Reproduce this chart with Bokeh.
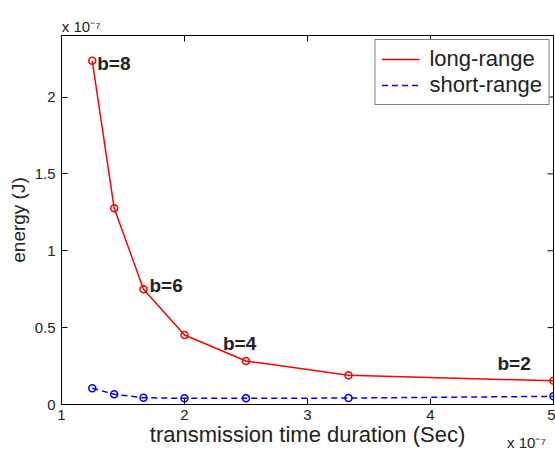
from bokeh.plotting import figure
from bokeh.models import (ColumnDataSource, Range1d, Label, Legend, LegendItem,
                          LinearAxis, FixedTicker)
from bokeh.embed import file_html
from bokeh.resources import INLINE

# data (x in units of 1e-7 s, y in units of 1e-7 J)
b_values = [8, 7, 6, 5, 4, 3, 2]
duration = [1.25, 1.4286, 1.6667, 2.0, 2.5, 3.3333, 5.0]
long_range = [2.235, 1.276, 0.75, 0.452, 0.283, 0.19, 0.154]
short_range = [0.106, 0.066, 0.044, 0.040, 0.040, 0.042, 0.053]
x_ticks = [1, 2, 3, 4, 5]
y_ticks = [0, 0.5, 1, 1.5, 2]
annotated_b = [8, 6, 4, 2]
exponent_text = "x 10\u207b\u2077"

FONT = "Liberation Sans"
TXT = "#222222"
X0, X1, Y0, Y1 = 1, 5, 0, 2.4
SPAN = X1 - X0

p = figure(width=555, height=449, output_backend="svg", toolbar_location=None,
           x_range=Range1d(X0, X1), y_range=Range1d(Y0, Y1),
           min_border_left=61, min_border_right=2, min_border_top=35, min_border_bottom=44)
p.title.visible = False
p.background_fill_color = "white"
p.border_fill_color = "white"
p.outline_line_color = "black"
p.outline_line_width = 1
p.xgrid.visible = False
p.ygrid.visible = False

src = ColumnDataSource(dict(x=duration, lr=long_range, sr=short_range, b=b_values))

r_long = p.line("x", "lr", source=src, line_color="red", line_width=1.5)
p.scatter("x", "lr", source=src, marker="circle", size=7, line_color="red",
          fill_color=None, line_width=1.5)
r_short = p.line("x", "sr", source=src, line_color="blue", line_width=1.5, line_dash="6 4")
p.scatter("x", "sr", source=src, marker="circle", size=7, line_color="blue",
          fill_color=None, line_width=1.5)

# inward ticks mirrored on the top and right edges (clipped to the frame)
tt_src = ColumnDataSource(dict(x=x_ticks, y=[Y1] * len(x_ticks)))
rt_src = ColumnDataSource(dict(x=[X1] * len(y_ticks), y=y_ticks))
p.scatter("x", "y", source=tt_src, marker="dash", angle=1.5708, size=12,
          line_color="black", line_width=1)
p.scatter("x", "y", source=rt_src, marker="dash", size=12,
          line_color="black", line_width=1)

# main axes
xa, ya = p.xaxis[0], p.yaxis[0]
xa.ticker = x_ticks
ya.ticker = y_ticks
for ax in (xa, ya):
    ax.major_tick_in = 6
    ax.major_tick_out = 0
    ax.minor_tick_line_color = None
    ax.axis_line_color = "black"
    ax.major_tick_line_color = "black"
    ax.major_label_text_font = FONT
    ax.major_label_text_font_size = "15px"
    ax.major_label_text_color = TXT
    ax.axis_label_text_font = FONT
    ax.axis_label_text_font_style = "normal"
    ax.axis_label_text_color = TXT
xa.major_label_standoff = 5
ya.axis_label = "energy (J)"
ya.axis_label_text_font_size = "19px"
ya.major_label_standoff = 6
ya.axis_label_standoff = 3
ya.major_label_overrides = {0: "0", 0.5: "0.5", 1: "1", 1.5: "1.5", 2: "2"}


def label_axis(anchor, standoff):
    return LinearAxis(ticker=FixedTicker(ticks=[anchor]),
                      major_label_overrides={anchor: exponent_text},
                      major_tick_line_color=None, minor_tick_line_color=None,
                      axis_line_color=None, major_label_standoff=standoff,
                      major_label_text_align="center", major_label_text_font=FONT,
                      major_label_text_font_size="15px", major_label_text_color=TXT)


# second bottom axis: exponent near the right end, with the x axis title on the same row
xb = label_axis(X1 - 0.055 * SPAN, 5)
xb.axis_label = "transmission time duration (Sec)"
xb.axis_label_text_font = FONT
xb.axis_label_text_font_style = "normal"
xb.axis_label_text_font_size = "22px"
xb.axis_label_text_color = TXT
xb.axis_label_standoff = -32
p.add_layout(xb, "below")

# top axis carrying only the exponent above the y axis
xt = label_axis(X0 + 0.04 * SPAN, -5)
p.add_layout(xt, "above")

# b= annotations
label_offsets = {8: (5, -3), 6: (6, 4), 4: (-23, 17), 2: (-56, 17)}
for bv in annotated_b:
    i = b_values.index(bv)
    xo, yo = label_offsets[bv]
    p.add_layout(Label(x=duration[i], y=long_range[i], text=f"b={bv}",
                       x_offset=xo, y_offset=yo,
                       text_font=FONT, text_font_size="19px", text_font_style="bold",
                       text_baseline="middle", text_color=TXT))

legend = Legend(items=[LegendItem(label="long-range", renderers=[r_long]),
                       LegendItem(label="short-range", renderers=[r_short])],
                location="top_right")
legend.margin = 4
legend.padding = 6
legend.spacing = 0
legend.label_height = 20
legend.glyph_height = 20
legend.glyph_width = 38
legend.label_standoff = 10
legend.label_text_font = FONT
legend.label_text_font_size = "22px"
legend.label_text_color = TXT
legend.border_line_color = "black"
legend.border_line_width = 1
legend.background_fill_alpha = 1
p.add_layout(legend)

open("out.html", "w").write(file_html(p, INLINE))
